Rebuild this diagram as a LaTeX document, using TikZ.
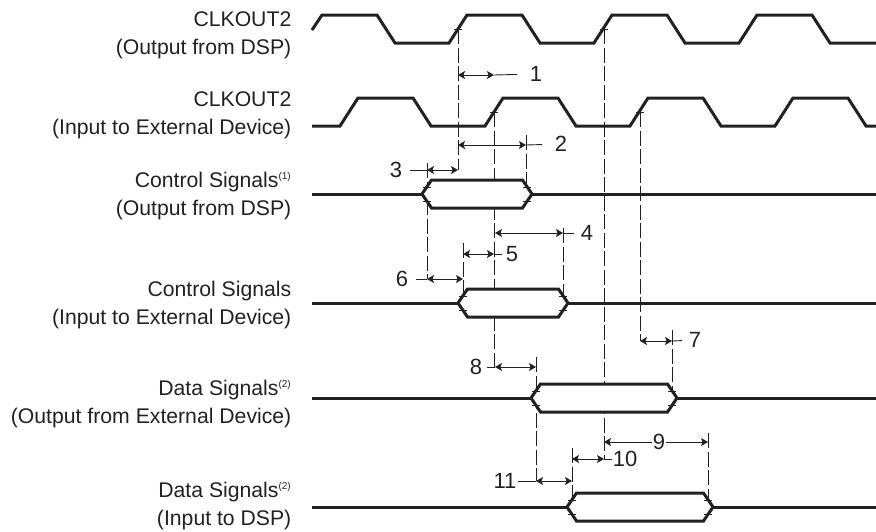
\documentclass[tikz,border=0pt]{standalone}
\usepackage{fontspec}
\setmainfont{Liberation Sans}
\usetikzlibrary{arrows.meta}
\definecolor{inkc}{gray}{0.13}
\tikzset{
  sigtext/.style = {anchor=east, align=right, inner sep=0pt, text=inkc, font=\fontsize{21.2}{28}\selectfont},
  numtext/.style = {inner ysep=0pt, text=inkc, font=\fontsize{22}{22}\selectfont},
  wave/.style = {draw=inkc, line width=3pt, line join=miter},
  guide/.style = {draw=inkc, line width=0.9pt, dash pattern=on 15pt off 3.5pt},
  dim/.style = {draw=inkc, line width=0.9pt, {Stealth[length=7pt,width=8pt,inset=1.5pt]}-{Stealth[length=7pt,width=8pt,inset=1.5pt]}},
  dimhalf/.style = {draw=inkc, line width=0.9pt, -{Stealth[length=7pt,width=8pt,inset=1.5pt]}},
  tail/.style = {draw=inkc, line width=0.9pt}
}
\newcommand{\sigsup}[1]{\textsuperscript{\fontsize{10}{10}\selectfont(#1)}}
\begin{document}
\begin{tikzpicture}[x=1pt,y=-1pt]
  \useasboundingbox (0,0) rectangle (876,531);
  % guides
  \foreach \gx/\ga/\gb in {458/29/170, 494/112/367, 427/163/279, 526/135/200,
      604/29/459, 640/112/341, 672/330/390, 463/243/295, 563/228/295,
      536/357/481, 572/448/500, 708/433/500} {
    \draw [guide] (\gx,\ga) -- (\gx,\gb);
  }
  % clocks
  \draw [wave] (312,30) -- (322,15) -- (377,15) -- (395,43) -- (449,43) -- (467,15)
    -- (522,15) -- (540,43) -- (594,43) -- (612,15) -- (667,15) -- (685,43)
    -- (739,43) -- (757,15) -- (812,15) -- (830,43) -- (876,43);
  \draw [wave] (312,126) -- (340,126) -- (358,98) -- (413,98) -- (431,126) -- (485,126)
    -- (503,98) -- (558,98) -- (576,126) -- (630,126) -- (648,98) -- (703,98)
    -- (721,126) -- (775,126) -- (793,98) -- (848,98) -- (866,126) -- (876,126);
  \foreach \tx/\ty in {458/29, 604/29, 494/112, 640/112} {
    \draw [tail] (\tx-4,\ty) -- (\tx+4,\ty);
  }
  % signals
  \foreach \sy/\sa/\sb in {194/422/532, 303/458/568, 398/531/677, 507/567/713} {
    \draw [wave] (312,\sy) -- (876,\sy);
    \draw [wave, fill=white] (\sa,\sy) -- (\sa+9.5,\sy-14) -- (\sb-9.5,\sy-14) -- (\sb,\sy)
      -- (\sb-9.5,\sy+14) -- (\sa+9.5,\sy+14) -- cycle;
    \foreach \ox in {\sa+5,\sb-5} {
      \draw [tail] (\ox-4,\sy-7) -- (\ox+4,\sy-7);
      \draw [tail] (\ox-4,\sy+7) -- (\ox+4,\sy+7);
    }
  }
  % timing parameters
  \foreach \nm/\xa/\xb/\yy/\xn/\yn/\sep/\xt in {
      1/458/494/75/536/74/12.6/494, 2/458/526/145/561/144/12.6/526,
      3/427/458/170/396/170/7.6/427, 4/495/563/233/587/233/6.6/563,
      5/463/494/254/512/254/3.6/494, 6/427/463/279/402/279/7.6/427,
      7/640/672/341/695/340/6.6/672, 8/495/536/367/476/367/4.6/495,
      10/572/604/459/625/459/0.8/604, 11/536/572/481/505/481/1.8/536} {
    \node [numtext, inner xsep=\sep pt] (num\nm) at (\xn,\yn) {\nm};
    \coordinate (ta\nm) at (\xa,\yy);
    \coordinate (tb\nm) at (\xb,\yy);
    \coordinate (tt\nm) at (\xt,\yy);
    \draw [dim] (ta\nm) -- (tb\nm);
    \draw [tail] (tt\nm) -- (num\nm);
  }
  \node [numtext, inner xsep=1pt] (num9) at (659,442) {9};
  \coordinate (ta9) at (604,442);
  \coordinate (tb9) at (708,442);
  \draw [dimhalf] (num9) -- (ta9);
  \draw [dimhalf] (num9) -- (tb9);
  % signal names
  \node [sigtext] (lab1) at (291.5,35) {CLKOUT2\\(Output from DSP)};
  \node [sigtext] (lab2) at (291.5,115) {CLKOUT2\\(Input to External Device)};
  \node [sigtext] (lab3) at (291.5,196) {Control Signals\sigsup{1}\\(Output from DSP)};
  \node [sigtext] (lab4) at (291.5,305) {Control Signals\\(Input to External Device)};
  \node [sigtext] (lab5) at (291.5,404) {Data Signals\sigsup{2}\\(Output from External Device)};
  \node [sigtext] (lab6) at (291.5,506) {Data Signals\sigsup{2}\\(Input to DSP)};
\end{tikzpicture}
\end{document}
